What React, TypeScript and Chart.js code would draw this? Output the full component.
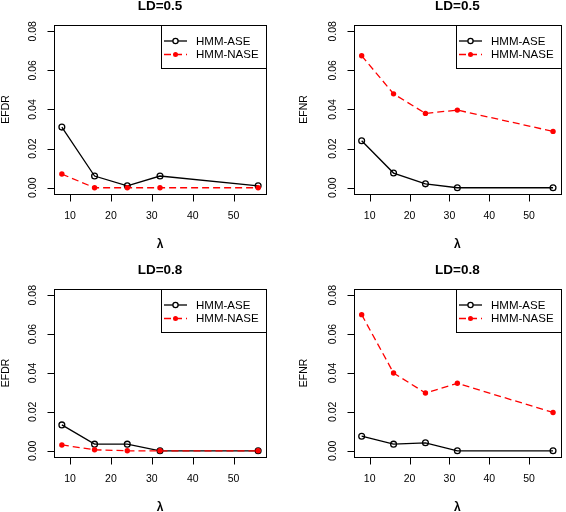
import React, { useEffect, useRef } from "react";
import { Chart, registerables } from "chart.js";

Chart.register(...registerables);

const lambdas = [8, 16, 24, 32, 56];
const xTicks = [10, 20, 30, 40, 50];
const yTicks = [0, 0.02, 0.04, 0.06, 0.08];
const yTickLabels = ["0.00", "0.02", "0.04", "0.06", "0.08"];
const seriesNames = ["HMM-ASE", "HMM-NASE"];

const efdr05Ase = [0.031, 0.006, 0.001, 0.006, 0.001];
const efdr05Nase = [0.007, 0, 0, 0, 0];
const efnr05Ase = [0.024, 0.0075, 0.002, 0, 0];
const efnr05Nase = [0.0675, 0.048, 0.038, 0.0397, 0.0288];
const efdr08Ase = [0.0133, 0.0034, 0.0034, 0, 0];
const efdr08Nase = [0.003, 0.0005, 0, 0, 0];
const efnr08Ase = [0.0075, 0.0034, 0.0041, 0, 0];
const efnr08Nase = [0.07, 0.04, 0.0297, 0.0347, 0.0197];

const FONT = "'Liberation Sans', Arial, Helvetica, sans-serif";
const DASH = [7, 4];

type PanelDef = {
  title: string;
  yLabel: string;
  ase: number[];
  nase: number[];
  left: number;
  top: number;
  box: { l: number; r: number; t: number; b: number };
  yTitleOff: number;
};

const panels: PanelDef[] = [
  { title: "LD=0.5", yLabel: "EFDR", ase: efdr05Ase, nase: efdr05Nase, left: 0, top: 0, box: { l: 54, r: 266, t: 25, b: 194 }, yTitleOff: 48 },
  { title: "LD=0.5", yLabel: "EFNR", ase: efnr05Ase, nase: efnr05Nase, left: 283, top: 0, box: { l: 71, r: 282, t: 25, b: 194 }, yTitleOff: 50 },
  { title: "LD=0.8", yLabel: "EFDR", ase: efdr08Ase, nase: efdr08Nase, left: 0, top: 256, box: { l: 54, r: 266, t: 33, b: 201 }, yTitleOff: 48 },
  { title: "LD=0.8", yLabel: "EFNR", ase: efnr08Ase, nase: efnr08Nase, left: 283, top: 256, box: { l: 71, r: 282, t: 33, b: 201 }, yTitleOff: 50 },
];

const W = 283;
const H = 256;

function makeDecor(p: PanelDef) {
  return {
    id: "rDecor",
    afterDatasetsDraw(chart: any) {
      const ctx = chart.ctx as CanvasRenderingContext2D;
      const { left, right, top, bottom } = chart.chartArea;
      const xs = chart.scales.x;
      const ys = chart.scales.y;
      ctx.save();
      ctx.strokeStyle = "#000";
      ctx.fillStyle = "#000";
      ctx.lineWidth = 1;
      // box
      ctx.strokeRect(Math.round(left) + 0.5, Math.round(top) + 0.5, Math.round(right - left), Math.round(bottom - top));
      // x ticks
      ctx.font = `10.5px ${FONT}`;
      ctx.textAlign = "center";
      ctx.textBaseline = "middle";
      const by = Math.round(bottom) + 0.5;
      ctx.beginPath();
      xTicks.forEach((t) => {
        const px = Math.round(xs.getPixelForValue(t)) + 0.5;
        ctx.moveTo(px, by);
        ctx.lineTo(px, by + 7);
      });
      ctx.stroke();
      xTicks.forEach((t) => {
        ctx.fillText(String(t), xs.getPixelForValue(t), bottom + 22);
      });
      // y ticks
      const lx = Math.round(left) + 0.5;
      ctx.beginPath();
      yTicks.forEach((t) => {
        const py = Math.round(ys.getPixelForValue(t)) + 0.5;
        ctx.moveTo(lx, py);
        ctx.lineTo(lx - 7, py);
      });
      ctx.stroke();
      yTicks.forEach((t, i) => {
        const py = ys.getPixelForValue(t);
        ctx.save();
        ctx.translate(left - 20.5, py);
        ctx.rotate(-Math.PI / 2);
        ctx.fillText(yTickLabels[i], 0, 0);
        ctx.restore();
      });
      // axis titles
      ctx.font = `10.5px ${FONT}`;
      ctx.save();
      ctx.translate(left - p.yTitleOff, (top + bottom) / 2);
      ctx.rotate(-Math.PI / 2);
      ctx.fillText(p.yLabel, 0, 0);
      ctx.restore();
      ctx.font = `bold 12px ${FONT}`;
      ctx.fillText("λ", (left + right) / 2, bottom + 51);
      // main title
      ctx.font = `bold 13.5px ${FONT}`;
      ctx.fillText(p.title, (left + right) / 2, top - 19);
      // legend
      const lw = 105;
      const lh = 43;
      const lgx = Math.round(right) - lw;
      const lgy = Math.round(top);
      ctx.fillStyle = "#fff";
      ctx.fillRect(lgx, lgy, lw, lh);
      ctx.strokeRect(lgx + 0.5, lgy + 0.5, lw, lh);
      const rows = [lgy + 16, lgy + 29.5];
      ctx.font = `11.5px ${FONT}`;
      ctx.textAlign = "left";
      seriesNames.forEach((name, i) => {
        const y = rows[i];
        ctx.lineWidth = 1.3;
        if (i === 0) {
          ctx.strokeStyle = "#000";
          ctx.setLineDash([]);
        } else {
          ctx.strokeStyle = "#ff0000";
          ctx.setLineDash(DASH);
        }
        ctx.beginPath();
        ctx.moveTo(lgx + 3, y);
        ctx.lineTo(lgx + 26, y);
        ctx.stroke();
        ctx.setLineDash([]);
        ctx.beginPath();
        ctx.arc(lgx + 14.5, y, i === 0 ? 2.6 : 2.5, 0, Math.PI * 2);
        if (i === 0) {
          ctx.fillStyle = "#fff";
          ctx.fill();
          ctx.stroke();
        } else {
          ctx.fillStyle = "#ff0000";
          ctx.fill();
        }
        ctx.fillStyle = "#000";
        ctx.fillText(name, lgx + 35, y + 0.5);
      });
      ctx.restore();
    },
  };
}

function Panel({ p }: { p: PanelDef }) {
  const ref = useRef<HTMLCanvasElement | null>(null);
  useEffect(() => {
    if (!ref.current) return;
    const chart = new Chart(ref.current, {
      type: "line",
      data: {
        datasets: [
          {
            label: seriesNames[0],
            data: lambdas.map((x, i) => ({ x, y: p.ase[i] })),
            borderColor: "#000",
            borderWidth: 1.3,
            pointRadius: 2.9,
            pointBorderWidth: 1.3,
            pointBackgroundColor: "rgba(0,0,0,0)",
            pointBorderColor: "#000",
            fill: false,
            tension: 0,
            order: 2,
          },
          {
            label: seriesNames[1],
            data: lambdas.map((x, i) => ({ x, y: p.nase[i] })),
            borderColor: "#ff0000",
            borderWidth: 1.3,
            borderDash: DASH,
            pointRadius: 2.7,
            pointBorderWidth: 0,
            pointBackgroundColor: "#ff0000",
            pointBorderColor: "#ff0000",
            fill: false,
            tension: 0,
            order: 1,
          },
        ],
      },
      options: {
        responsive: false,
        animation: false,
        devicePixelRatio: 1,
        layout: {
          padding: { left: p.box.l, right: W - p.box.r, top: p.box.t, bottom: H - p.box.b },
        },
        scales: {
          x: { type: "linear", min: 6.08, max: 57.92, display: false },
          y: { type: "linear", min: -0.0032, max: 0.0832, display: false },
        },
        plugins: {
          legend: { display: false },
          tooltip: { enabled: false },
          title: { display: false },
        },
        events: [],
      },
      plugins: [makeDecor(p)],
    });
    return () => chart.destroy();
  }, [p]);
  return (
    <canvas
      ref={ref}
      width={W}
      height={H}
      style={{ position: "absolute", left: p.left, top: p.top, width: W, height: H }}
    />
  );
}

export default function App() {
  return (
    <div style={{ position: "fixed", left: 0, top: 0, width: 566, height: 512, background: "#fff", overflow: "hidden" }}>
      {panels.map((p, i) => (
        <Panel key={i} p={p} />
      ))}
    </div>
  );
}
